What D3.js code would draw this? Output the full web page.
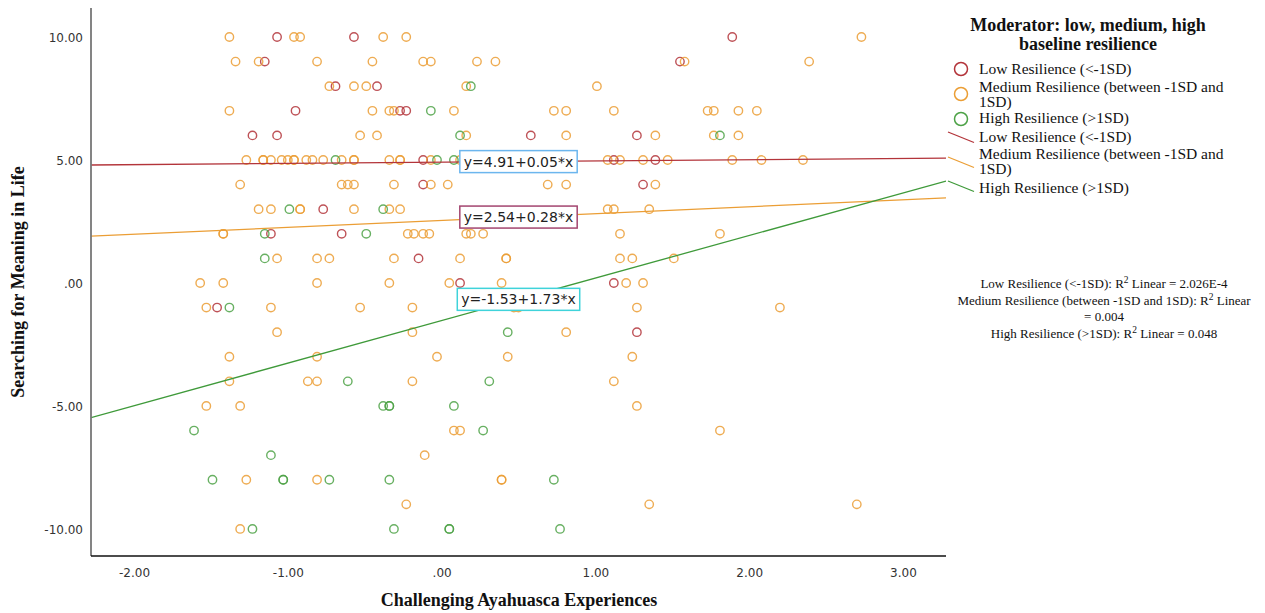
<!DOCTYPE html>
<html><head><meta charset="utf-8">
<script src="https://cdn.jsdelivr.net/npm/d3@7"></script>
<style>body{margin:0;background:#fff;} svg{display:block;}</style>
</head><body>
<svg id="chart" width="1265" height="613"></svg>
<script>
// ---------- DATA ----------
const xTicks = [-2, -1, 0, 1, 2, 3];
const xTickLabels = ["-2.00", "-1.00", ".00", "1.00", "2.00", "3.00"];
const yTicks = [10, 5, 0, -5, -10];
const yTickLabels = ["10.00", "5.00", ".00", "-5.00", "-10.00"];

const groupNames = ["Low Resilience (<-1SD)", "Medium Resilience (between -1SD and 1SD)", "High Resilience (>1SD)"];
const intercepts = [4.91, 2.54, -1.53];
const slopes = [0.05, 0.28, 1.73];
const equations = ["y=4.91+0.05*x", "y=2.54+0.28*x", "y=-1.53+1.73*x"];
const r2Lines = ["Low Resilience (<-1SD): R² Linear = 2.026E-4",
                 "Medium Resilience (between -1SD and 1SD): R² Linear",
                 "= 0.004",
                 "High Resilience (>1SD): R² Linear = 0.048"];

const lowPoints = [
 [-1.07,10],[-0.57,10],[1.89,10],
 [-1.15,9],[1.55,9],
 [-0.69,8],[-0.42,8],
 [-0.95,7],[-0.27,7],[-0.23,7],
 [-1.23,6],[-1.07,6],[0.58,6],[1.27,6],
 [-0.12,5],[1.12,5],[1.39,5],
 [-0.12,4],[1.31,4],
 [-0.77,3],
 [-1.11,2],[-0.65,2],
 [-0.15,1],
 [0.12,0],[1.12,0],
 [-1.46,-1],
 [1.27,-2]
];
const mediumPoints = [
 [-1.38,10],[-0.96,10],[-0.92,10],[-0.38,10],[-0.23,10],[2.73,10],
 [-1.34,9],[-1.19,9],[-0.81,9],[-0.45,9],[-0.12,9],[-0.07,9],[0.23,9],[0.35,9],[1.58,9],[2.39,9],
 [-0.73,8],[-0.57,8],[-0.49,8],[0.16,8],[1.01,8],
 [-1.38,7],[-0.45,7],[-0.34,7],[-0.31,7],[0.08,7],[0.73,7],[0.81,7],[1.12,7],[1.73,7],[1.77,7],[1.93,7],[2.05,7],
 [-0.53,6],[-0.42,6],[0.16,6],[0.81,6],[1.39,6],[1.77,6],[1.93,6],
 [-1.27,5],[-1.16,5],[-1.16,5],[-1.11,5],[-1.04,5],[-1.00,5],[-0.96,5],[-0.96,5],[-0.88,5],[-0.84,5],[-0.77,5],[-0.65,5],[-0.57,5],[-0.57,5],[-0.34,5],[-0.27,5],[-0.27,5],[-0.07,5],[0.12,5],[1.08,5],[1.16,5],[1.31,5],[1.47,5],[1.89,5],[2.08,5],[2.35,5],
 [-1.31,4],[-0.65,4],[-0.61,4],[-0.57,4],[-0.31,4],[-0.07,4],[0.04,4],[0.69,4],[0.81,4],[1.39,4],
 [-1.19,3],[-1.11,3],[-0.92,3],[-0.92,3],[-0.57,3],[-0.34,3],[-0.27,3],[1.08,3],[1.12,3],[1.35,3],
 [-1.42,2],[-1.42,2],[-0.22,2],[-0.18,2],[-0.12,2],[-0.08,2],[0.16,2],[0.19,2],[0.27,2],[1.16,2],[1.81,2],
 [-1.07,1],[-0.81,1],[-0.73,1],[-0.31,1],[0.12,1],[0.42,1],[0.42,1],[1.16,1],[1.24,1],[1.51,1],
 [-1.57,0],[-1.42,0],[-0.81,0],[-0.34,0],[0.05,0],[0.39,0],[1.20,0],[1.31,0],
 [-1.53,-1],[-1.11,-1],[-0.53,-1],[-0.19,-1],[0.47,-1],[0.50,-1],[1.27,-1],[2.20,-1],
 [-1.07,-2],[-0.19,-2],[0.81,-2],
 [-1.38,-3],[-0.81,-3],[-0.03,-3],[0.43,-3],[1.24,-3],
 [-1.38,-4],[-0.87,-4],[-0.81,-4],[-0.19,-4],[1.12,-4],
 [-1.53,-5],[-1.31,-5],[1.27,-5],
 [0.08,-6],[0.12,-6],[1.81,-6],
 [-0.11,-7],
 [-1.27,-8],[-0.81,-8],[0.39,-8],[0.39,-8],
 [-0.23,-9],[1.35,-9],[2.70,-9],
 [-1.31,-10]
];
const highPoints = [
 [0.19,8],
 [-0.07,7],
 [0.12,6],[1.81,6],
 [-0.69,5],[-0.03,5],[0.08,5],
 [-0.99,3],[-0.38,3],
 [-1.15,2],[-0.49,2],
 [-1.15,1],
 [-1.38,-1],
 [0.43,-2],
 [-0.61,-4],[0.31,-4],
 [-0.38,-5],[-0.34,-5],[-0.34,-5],[0.08,-5],
 [-1.61,-6],[0.27,-6],
 [-1.11,-7],
 [-1.49,-8],[-1.03,-8],[-1.03,-8],[-0.73,-8],[-0.34,-8],[0.73,-8],
 [-1.23,-10],[-0.31,-10],[0.05,-10],[0.05,-10],[0.77,-10]
];
const groupPoints = [lowPoints, mediumPoints, highPoints];

// ---------- STYLE ----------
const pointColors = ["#b3343a", "#eb9e35", "#4da247"];
const lineColors = ["#b3343a", "#eb9e35", "#3f9a3a"];
const eqBorders = ["#6cb6ee", "#a3456f", "#3fd3da"];
const serif = "'Liberation Serif', 'Times New Roman', serif";
const sans = "'DejaVu Sans', sans-serif";

const svg = d3.select("#chart");
const L = 91, R = 946, T = 8, B = 556;
const x = d3.scaleLinear().domain([-2.28, 3.28]).range([L, R]);
const y = d3.scaleLinear().domain([-11.1, 11.18]).range([B, T]);

svg.append("defs").append("clipPath").attr("id", "clip")
  .append("rect").attr("x", L).attr("y", T).attr("width", R - L).attr("height", B - T);

// points
const pg = svg.append("g").attr("clip-path", "url(#clip)");
groupPoints.forEach((pts, gi) => {
  pg.selectAll(null).data(pts).enter().append("circle")
    .attr("cx", d => x(d[0])).attr("cy", d => y(d[1])).attr("r", 4.2)
    .attr("fill", "none").attr("stroke", pointColors[gi])
    .attr("stroke-width", 1.4).attr("stroke-opacity", 0.85);
});

// regression lines
const dom = x.domain();
const lg = svg.append("g").attr("clip-path", "url(#clip)");
intercepts.forEach((a, i) => {
  lg.append("line")
    .attr("x1", x(dom[0])).attr("y1", y(a + slopes[i] * dom[0]))
    .attr("x2", x(dom[1])).attr("y2", y(a + slopes[i] * dom[1]))
    .attr("stroke", lineColors[i]).attr("stroke-width", 1.3);
});

// equation labels
intercepts.forEach((a, i) => {
  const cx = x(0.5), cy = y(a + slopes[i] * 0.5);
  const g = svg.append("g");
  const t = g.append("text").attr("x", cx).attr("y", cy + 5)
    .attr("text-anchor", "middle").attr("font-family", sans).attr("font-size", 14)
    .attr("fill", "#222").text(equations[i]);
  const bb = t.node().getBBox();
  g.insert("rect", "text").attr("x", bb.x - 4).attr("y", cy - 11)
    .attr("width", bb.width + 8).attr("height", 22)
    .attr("fill", "#fff").attr("stroke", eqBorders[i]).attr("stroke-width", 1.5);
});

// axes lines
svg.append("line").attr("x1", L).attr("x2", L).attr("y1", T).attr("y2", B)
  .attr("stroke", "#777").attr("stroke-width", 1.8);
svg.append("line").attr("x1", L).attr("x2", R).attr("y1", B).attr("y2", B)
  .attr("stroke", "#111").attr("stroke-width", 1.5);

// tick labels
const xAxis = d3.axisBottom(x).tickValues(xTicks).tickSize(0).tickPadding(0)
  .tickFormat((d, i) => xTickLabels[i]);
const xg = svg.append("g").attr("transform", `translate(0,${B})`).call(xAxis);
xg.select(".domain").remove();
xg.selectAll("text").attr("dy", null).attr("y", 21).attr("font-family", sans)
  .attr("font-size", 12).attr("fill", "#333");

const yAxis = d3.axisLeft(y).tickValues(yTicks).tickSize(0).tickPadding(0)
  .tickFormat((d, i) => yTickLabels[i]);
const yg = svg.append("g").attr("transform", `translate(${L},0)`).call(yAxis);
yg.select(".domain").remove();
yg.selectAll("text").attr("x", -8).attr("dy", "0.35em").attr("font-family", sans)
  .attr("font-size", 12).attr("fill", "#333");

// axis titles
svg.append("text").attr("x", 519).attr("y", 606).attr("text-anchor", "middle")
  .attr("font-family", serif).attr("font-weight", "bold").attr("font-size", 18)
  .attr("fill", "#111").text("Challenging Ayahuasca Experiences");
svg.append("text").attr("transform", `translate(24,${(T + B) / 2}) rotate(-90)`)
  .attr("text-anchor", "middle")
  .attr("font-family", serif).attr("font-weight", "bold").attr("font-size", 18)
  .attr("fill", "#111").text("Searching for Meaning in Life");

// legend
const leg = svg.append("g");
leg.append("text").attr("x", 1088).attr("y", 31).attr("text-anchor", "middle")
  .attr("font-family", serif).attr("font-weight", "bold").attr("font-size", 18)
  .attr("fill", "#111").text("Moderator: low, medium, high");
leg.append("text").attr("x", 1088).attr("y", 50).attr("text-anchor", "middle")
  .attr("font-family", serif).attr("font-weight", "bold").attr("font-size", 18)
  .attr("fill", "#111").text("baseline resilience");

const markerRows = [
  {cy: 69, lines: [["Low Resilience (<-1SD)", 74]]},
  {cy: 94, lines: [["Medium Resilience (between -1SD and", 92], ["1SD)", 107]]},
  {cy: 119, lines: [["High Resilience (>1SD)", 123]]}
];
markerRows.forEach((row, i) => {
  leg.append("circle").attr("cx", 961).attr("cy", row.cy).attr("r", 6.5)
    .attr("fill", "none").attr("stroke", pointColors[i]).attr("stroke-width", 1.5);
  row.lines.forEach(([t, yy]) => leg.append("text").attr("x", 979).attr("y", yy)
    .attr("font-family", serif).attr("font-size", 15.5).attr("fill", "#111").text(t));
});
const lineRows = [
  {y1: 132, lines: [["Low Resilience (<-1SD)", 142]]},
  {y1: 157, lines: [["Medium Resilience (between -1SD and", 159], ["1SD)", 174]]},
  {y1: 181, lines: [["High Resilience (>1SD)", 193]]}
];
lineRows.forEach((row, i) => {
  leg.append("line").attr("x1", 948).attr("y1", row.y1).attr("x2", 974).attr("y2", row.y1 + 10.5)
    .attr("stroke", lineColors[i]).attr("stroke-width", 1.3);
  row.lines.forEach(([t, yy]) => leg.append("text").attr("x", 979).attr("y", yy)
    .attr("font-family", serif).attr("font-size", 15.5).attr("fill", "#111").text(t));
});

// R² annotations
const r2Y = [288, 305, 321, 338];
r2Lines.forEach((t, i) => {
  const parts = t.split("²");
  const tx = svg.append("text").attr("x", 1104).attr("y", r2Y[i]).attr("text-anchor", "middle")
    .attr("font-family", serif).attr("font-size", 13).attr("fill", "#111");
  tx.append("tspan").text(parts[0]);
  if (parts.length > 1) {
    tx.append("tspan").attr("dy", -5).attr("font-size", 9.5).text("2");
    tx.append("tspan").attr("dy", 5).text(parts[1]);
  }
});
</script>
</body></html>
